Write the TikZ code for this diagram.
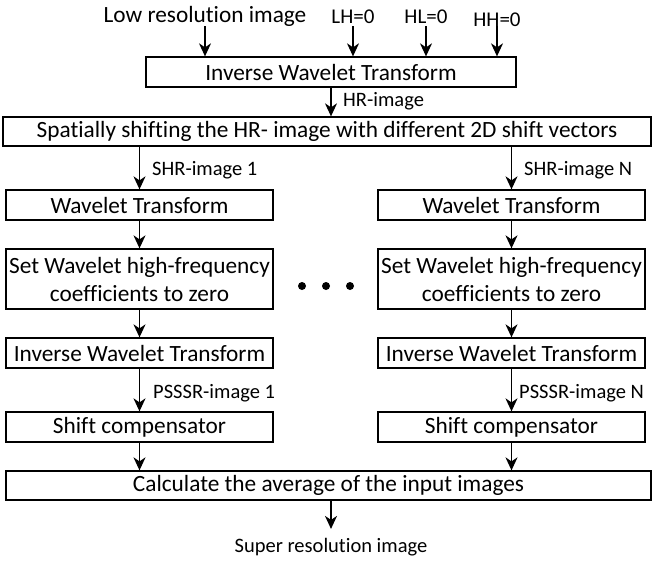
\documentclass[tikz,border=0pt]{standalone}
\usepackage{fontspec}
\setmainfont{Carlito}[Ligatures=NoCommon]
\usetikzlibrary{arrows.meta}
\begin{document}
\begin{tikzpicture}[x=1pt,y=-1pt,
  box/.style={draw, line width=1.3pt, inner sep=0pt, font=\fontsize{23.3}{28}\selectfont, align=center, minimum height=30pt},
  colbox/.style={box, minimum width=267pt},
  lbl/.style={inner sep=0pt, font=\fontsize{20.5}{24}\selectfont},
  toplbl/.style={inner sep=0pt, font=\fontsize{21}{24}\selectfont, anchor=base},
  arr/.style={-{Stealth[length=13pt,width=12pt,inset=4pt]}, line width=1.3pt},
  dot/.style={fill=black}]
\useasboundingbox (0,0) rectangle (653,563);

% top inputs
\node[inner sep=0pt, font=\fontsize{23.3}{28}\selectfont, anchor=base] (low) at (205,22) {Low resolution image};
\node[toplbl] (lh) at (353,23) {LH=0};
\node[toplbl] (hl) at (426,23) {HL=0};
\node[toplbl] (hh) at (497,26) {HH=0};

\node[box, minimum width=370pt] (iwt) at (331,72) {Inverse Wavelet Transform};
\node[box, minimum width=648pt, minimum height=29pt] (spat) at (327,131.5) {Spatially shifting the HR- image with different 2D shift vectors};

\draw[arr] (low.south) -- (low.south |- iwt.north);
\draw[arr] (lh.south |- low.south) -- (lh.south |- iwt.north);
\draw[arr] (hl.south |- low.south) -- (hl.south |- iwt.north);
\draw[arr] (hh.south |- low.south) -- (hh.south |- iwt.north);

\draw[arr] (iwt.south) -- (iwt.south |- spat.north);
\node[lbl, anchor=west] (hrlbl) at (343,101) {HR-image};

% left column
\node[colbox] (wtL) at (139.5,205) {Wavelet Transform};
\node[colbox, minimum height=60pt] (setL) at (139.5,279) {Set Wavelet high-frequency\\coefficients to zero};
\node[colbox] (iwtL) at (139.5,353) {Inverse Wavelet Transform};
\node[colbox] (shL) at (139.5,427) {Shift compensator};

% right column
\node[colbox] (wtR) at (511.5,205) {Wavelet Transform};
\node[colbox, minimum height=60pt] (setR) at (511.5,279) {Set Wavelet high-frequency\\coefficients to zero};
\node[colbox] (iwtR) at (511.5,353) {Inverse Wavelet Transform};
\node[colbox] (shR) at (511.5,427) {Shift compensator};

\node[box, minimum width=645pt, minimum height=29pt] (calc) at (328.5,485.5) {Calculate the average of the input images};

\draw[arr] (spat.south -| wtL.north) -- (wtL.north);
\draw[arr] (wtL.south) -- (setL.north);
\draw[arr] (setL.south) -- (iwtL.north);
\draw[arr] (iwtL.south) -- (shL.north);
\draw[arr] (shL.south) -- (shL.south |- calc.north);

\draw[arr] (spat.south -| wtR.north) -- (wtR.north);
\draw[arr] (wtR.south) -- (setR.north);
\draw[arr] (setR.south) -- (iwtR.north);
\draw[arr] (iwtR.south) -- (shR.north);
\draw[arr] (shR.south) -- (shR.south |- calc.north);

\node[lbl, anchor=west] (shr1) at (152,170) {SHR-image 1};
\node[lbl, anchor=west] (shrN) at (524,170) {SHR-image N};
\node[lbl, anchor=west] (ps1) at (153,393) {PSSSR-image 1};
\node[lbl, anchor=west] (psN) at (519,393) {PSSSR-image N};

% dots
\fill[dot] (302,286) circle (4pt);
\fill[dot] (326,286) circle (4pt);
\fill[dot] (350,286) circle (4pt);

% output
\node[lbl] (super) at (331,547) {Super resolution image};
\draw[arr] (calc.south -| super.north) -- ([yshift=9pt]super.north);
\end{tikzpicture}
\end{document}
